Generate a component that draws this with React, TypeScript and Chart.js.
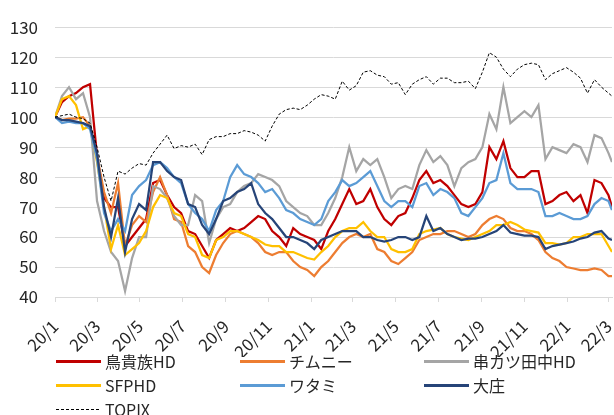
import { useEffect, useRef } from "react";
import { Chart, registerables } from "chart.js";

Chart.register(...registerables);

// days since 2020-01-01
const days = [
  0, 10, 20, 30, 40, 50, 60, 70, 80, 90,
  100, 110, 120, 130, 140, 150, 160, 170, 180, 190,
  200, 210, 220, 230, 240, 250, 260, 270, 280, 290,
  300, 310, 320, 330, 340, 350, 360, 370, 380, 390,
  400, 410, 420, 430, 440, 450, 460, 470, 480, 490,
  500, 510, 520, 530, 540, 550, 560, 570, 580, 590,
  600, 610, 620, 630, 640, 650, 660, 670, 680, 690,
  700, 710, 720, 730, 740, 750, 760, 770, 780, 790,
  795,
];

const tickDays = [0, 60, 121, 182, 244, 305, 366, 425, 486, 547, 609, 670, 731, 790];
const tickLabels = ["20/1", "20/3", "20/5", "20/7", "20/9", "20/11", "21/1", "21/3", "21/5", "21/7", "21/9", "21/11", "22/1", "22/3"];

const torikizoku = [
  100, 105, 107, 108, 110, 111, 87, 73, 70, 70,
  57, 60, 63, 66, 78, 79, 74, 70, 68, 62,
  61, 57, 53, 59, 61, 63, 62, 63, 65, 67,
  66, 62, 60, 57, 63, 61, 60, 59, 56, 62,
  66, 71, 76, 71, 72, 76, 70, 66, 64, 67,
  68, 73, 79, 82, 78, 79, 77, 74, 71, 70,
  71, 75, 90, 86, 92, 83, 80, 80, 82, 82,
  71, 72, 74, 75, 72, 74, 68, 79, 78, 74,
  70,
];
const chimney = [
  100, 99, 99.5, 99.5, 100, 97, 87, 75, 68, 78,
  57, 64, 67, 65, 75, 80, 74, 66, 65, 57,
  55, 50, 48, 54, 58, 61, 62, 61, 60, 58,
  55, 54, 55, 55, 52, 50, 49, 47, 50, 52,
  55, 58, 60, 61, 60, 61, 56, 55, 52, 51,
  53, 55, 59, 60, 61, 61, 62, 62, 61, 60,
  61, 64, 66, 67, 66, 63, 62, 62, 61, 59,
  55, 53, 52, 50, 49.5, 49, 49, 49.5, 49, 47,
  47,
];
const kushikatsu = [
  100, 107, 110, 106, 108, 100, 72, 62, 55, 52,
  42, 53, 60, 60, 77, 76, 73, 67, 64, 64,
  74, 72, 58, 66, 70, 71, 75, 77, 78, 81,
  80, 79, 77, 72, 70, 68, 67, 64, 64, 68,
  73, 80, 90, 82, 86, 84, 86, 80, 73, 76,
  77, 76, 84, 89, 85, 87, 84, 77, 83, 85,
  86, 90, 101, 96, 110, 98, 100, 102, 100, 104,
  86, 90, 89, 88, 91, 90, 85, 94, 93, 88,
  85,
];
const sfphd = [
  100, 106, 107, 104, 96, 97, 85, 70, 56, 64,
  54, 56, 58, 62, 70, 74, 73, 68, 67, 61,
  60, 54, 53, 59, 60, 62, 62, 61, 60, 59,
  57.5, 57, 57, 55, 55, 54, 53, 52.5, 55, 57,
  60, 62, 63, 63, 65, 62, 60, 60, 56, 55,
  55, 56, 61, 62, 62.5, 63, 61, 60, 59.5, 59,
  60, 61, 62, 64, 64, 65, 64, 62.5, 62, 61.5,
  58, 58, 57.5, 58, 60, 60, 61, 61, 61, 57,
  55,
];
const watami = [
  100, 98, 98.5, 98, 98, 96, 86, 68, 62, 66,
  62, 74, 77, 79, 84, 85, 83, 80, 78, 71,
  68, 66, 62, 69, 72, 80, 84, 81, 80, 78,
  75, 76, 73, 69, 68, 66, 65, 64, 66, 72,
  75, 79, 77, 78, 80, 82, 77, 72, 70, 72,
  72, 70, 77, 78, 74, 76, 75, 73, 68, 67,
  70, 73, 78, 79, 88, 78, 76, 76, 76, 75,
  67, 67, 68, 67, 66, 66, 67, 71, 73, 72,
  69,
];
const daisyo = [
  100, 99, 99, 98.5, 98, 97, 88, 70, 60, 73,
  55, 66, 71, 69, 85, 85, 82, 80, 79, 71,
  70, 64, 61, 66, 72, 73, 75, 76, 78, 71,
  68, 66, 63, 60, 60, 59, 58, 56, 59, 60,
  61, 62, 62, 62, 60, 60, 59, 58.5, 59, 60,
  60, 59, 60, 67, 62, 63, 61, 60, 59, 59.5,
  59.5, 60, 61, 62, 64, 61.5, 61, 60.5, 60.5, 60,
  56, 57, 57.5, 58, 58.5, 59.5, 60, 61.5, 62, 59.5,
  59,
];
const topix = [
  100, 100.5, 101, 100, 99.5, 98, 90, 80, 72, 82,
  81, 83, 84.5, 84, 88, 91, 94, 89.5, 90.5, 90,
  91, 87.5, 92.5, 93.5, 93.5, 94.5, 94.5, 95.5, 95, 94,
  92, 97, 101, 102.5, 103, 102.5, 104, 106, 107.5, 107,
  106, 112, 109, 110.5, 115, 115.5, 114, 113.5, 111, 111.5,
  107.5, 111, 112.5, 113.5, 111, 113, 113, 111.5, 111.5, 112,
  109.5, 115, 121.5, 120, 116, 113.5, 116, 117.5, 118, 117.5,
  112.5, 114.5, 115.5, 116.5, 115, 113, 108, 112.5, 110, 108,
  107,
];

const seriesNames = ["鳥貴族HD", "チムニー", "串カツ田中HD", "SFPHD", "ワタミ", "大庄", "TOPIX"];
const seriesValues = [torikizoku, chimney, kushikatsu, sfphd, watami, daisyo, topix];
const seriesColors = ["#C00000", "#ED7D31", "#A5A5A5", "#FFC000", "#5B9BD5", "#264478", "#000000"];

const FONT = '"Noto Sans CJK JP", "Liberation Sans", sans-serif';
const TEXT = "#262626";

const legendCols = [56, 240, 424];
const legendRows = [361, 385, 409];

export default function App() {
  const canvasRef = useRef<HTMLCanvasElement | null>(null);

  useEffect(() => {
    document.body.style.margin = "0";
    const canvas = canvasRef.current;
    if (!canvas) return;
    const datasets = seriesValues.map((vals, i) => {
      const isTopix = i === seriesValues.length - 1;
      return {
        label: seriesNames[i],
        data: days.map((d, j) => ({ x: d, y: vals[j] })),
        borderColor: seriesColors[i],
        backgroundColor: seriesColors[i],
        borderWidth: isTopix ? 1 : 2.25,
        borderDash: isTopix ? [3, 2] : [],
        pointRadius: 0,
        tension: 0,
        fill: false,
        order: seriesValues.length - 1 - i,
      };
    });
    const chart = new Chart(canvas, {
      type: "line",
      data: { datasets },
      options: {
        animation: false,
        responsive: false,
        events: [],
        layout: { padding: { left: 0, right: 2, top: 21, bottom: 58 } },
        plugins: { legend: { display: false }, tooltip: { enabled: false } },
        scales: {
          x: {
            type: "linear",
            min: 0,
            max: 795,
            afterBuildTicks: (s: any) => {
              s.ticks = tickDays.map((v) => ({ value: v }));
            },
            afterFit: (s: any) => {
              s.height = 60;
              s.paddingLeft = 0;
              s.paddingRight = 0;
            },
            grid: { drawOnChartArea: false, drawTicks: true, tickLength: 5, color: "#D9D9D9" },
            border: { color: "#D9D9D9" },
            ticks: {
              autoSkip: false,
              minRotation: 45,
              maxRotation: 45,
              padding: 14,
              color: TEXT,
              font: { family: FONT, size: 17 },
              callback: (v: any) => {
                const i = tickDays.indexOf(Number(v));
                return i >= 0 ? tickLabels[i] : "";
              },
            },
          },
          y: {
            min: 40,
            max: 130,
            afterFit: (s: any) => {
              s.width = 55;
            },
            grid: { color: "#D9D9D9", drawTicks: false },
            border: { display: false },
            ticks: { stepSize: 10, padding: 17, color: TEXT, font: { family: FONT, size: 17 } },
          },
        },
      },
    } as any);
    return () => chart.destroy();
  }, []);

  return (
    <div style={{ position: "relative", width: 614, height: 415, overflow: "hidden", background: "#fff" }}>
      <canvas ref={canvasRef} width={614} height={415} style={{ display: "block" }} />
      {seriesNames.map((name, i) => {
        const col = legendCols[i % 3];
        const row = legendRows[Math.floor(i / 3)];
        const isTopix = i === seriesNames.length - 1;
        return (
          <div key={name} style={{ position: "absolute", left: col, top: row - 11, height: 22, display: "flex", alignItems: "center", whiteSpace: "nowrap" }}>
            <div
              style={{
                width: 45,
                height: isTopix ? 1 : 3,
                background: isTopix
                  ? "repeating-linear-gradient(to right, #000 0 3px, transparent 3px 5px)"
                  : seriesColors[i],
              }}
            />
            <span style={{ marginLeft: 4, font: `16px ${FONT}`, color: TEXT, lineHeight: "22px" }}>{name}</span>
          </div>
        );
      })}
    </div>
  );
}
